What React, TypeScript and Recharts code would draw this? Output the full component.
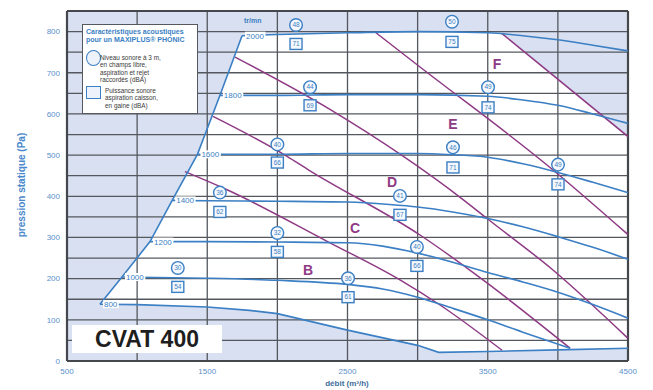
import React from 'react';
import {
  ComposedChart,
  Line,
  Area,
  XAxis,
  YAxis,
  CartesianGrid,
  ReferenceLine,
  Scatter,
  Label,
} from 'recharts';

const BLUE = '#3b7fc4';
const PURPLE = '#8e3a84';
const GRID = '#54585e';
const SHADE = '#d9e0f1';
const TICK = '#5a90cc';

// axes
const xTicks = [500, 1500, 2500, 3500, 4500];
const yTicks = [0, 100, 200, 300, 400, 500, 600, 700, 800];
const xGrid = [1000, 1500, 2000, 2500, 3000, 3500, 4000];
const yGrid = [50, 100, 150, 200, 250, 300, 350, 400, 450, 500, 550, 600, 650, 700, 750, 800];

// tr/mn curves (débit m3/h, pression Pa)
const rpm800 = [
  { x: 735, y: 138 }, { x: 1000, y: 137 }, { x: 1500, y: 131 }, { x: 1800, y: 123 },
  { x: 2000, y: 115 }, { x: 2500, y: 75 }, { x: 3000, y: 38 }, { x: 3150, y: 21 },
  { x: 3500, y: 23 }, { x: 4000, y: 27 }, { x: 4500, y: 31 },
];
const rpm1000 = [
  { x: 892, y: 204 }, { x: 1500, y: 201 }, { x: 2000, y: 196 }, { x: 2500, y: 186 },
  { x: 2750, y: 175 }, { x: 3000, y: 155 }, { x: 3250, y: 128 }, { x: 3500, y: 100 },
  { x: 3750, y: 70 }, { x: 4087, y: 31 },
];
const rpm1200 = [
  { x: 1092, y: 290 }, { x: 1500, y: 290 }, { x: 2000, y: 289 }, { x: 2500, y: 287 },
  { x: 2750, y: 279 }, { x: 3000, y: 262 }, { x: 3250, y: 240 }, { x: 3500, y: 215 },
  { x: 3750, y: 192 }, { x: 4000, y: 167 }, { x: 4250, y: 137 }, { x: 4500, y: 104 },
];
const rpm1400 = [
  { x: 1250, y: 390 }, { x: 1500, y: 389 }, { x: 2000, y: 388 }, { x: 2500, y: 386 },
  { x: 2800, y: 380 }, { x: 3000, y: 374 }, { x: 3250, y: 362 }, { x: 3500, y: 346 },
  { x: 3750, y: 326 }, { x: 4000, y: 302 }, { x: 4250, y: 276 }, { x: 4500, y: 247 },
];
const rpm1600 = [
  { x: 1430, y: 502 }, { x: 2000, y: 502 }, { x: 2500, y: 504 }, { x: 3000, y: 504 },
  { x: 3250, y: 501 }, { x: 3500, y: 495 }, { x: 3750, y: 479 }, { x: 4000, y: 458 },
  { x: 4250, y: 434 }, { x: 4500, y: 409 },
];
const rpm1800 = [
  { x: 1590, y: 645 }, { x: 2000, y: 645 }, { x: 2500, y: 647 }, { x: 3000, y: 647 },
  { x: 3500, y: 643 }, { x: 3750, y: 634 }, { x: 4000, y: 621 }, { x: 4250, y: 600 },
  { x: 4500, y: 577 },
];
const rpm2000 = [
  { x: 1748, y: 790 }, { x: 2000, y: 793 }, { x: 2500, y: 797 }, { x: 3000, y: 800 },
  { x: 3500, y: 797 }, { x: 3750, y: 790 }, { x: 4000, y: 780 }, { x: 4250, y: 767 },
  { x: 4500, y: 753 },
];
const rpmCurves = [rpm800, rpm1000, rpm1200, rpm1400, rpm1600, rpm1800, rpm2000];
const rpmNames = ['800', '1000', '1200', '1400', '1600', '1800', '2000'];

// tags at curve starts, also the left limit line
const rpmTags = rpmCurves.map((c, i) => ({ x: c[0].x, y: c[0].y, v: rpmNames[i] }));
const limitCurve = rpmCurves.map((c) => ({ x: c[0].x, y: c[0].y }));

// zone lines B..F
const lineB = [
  { x: 1341, y: 460 }, { x: 1641, y: 416 }, { x: 2375, y: 287 }, { x: 2874, y: 197 },
  { x: 3160, y: 136 }, { x: 3602, y: 26 },
];
const lineC = [
  { x: 1541, y: 594 }, { x: 2069, y: 497 }, { x: 2218, y: 465 }, { x: 3017, y: 306 },
  { x: 3466, y: 197 }, { x: 4087, y: 31 },
];
const lineD = [
  { x: 1698, y: 738 }, { x: 2375, y: 611 }, { x: 3324, y: 392 }, { x: 3495, y: 346 },
  { x: 3965, y: 221 }, { x: 4500, y: 55 },
];
const lineE = [
  { x: 2696, y: 799 }, { x: 3017, y: 714 }, { x: 3944, y: 470 }, { x: 4500, y: 307 },
];
const lineF = [{ x: 3602, y: 795 }, { x: 4500, y: 545 }];
const zoneLines = [lineB, lineC, lineD, lineE, lineF];

// white operating zone: low / high edge
const zoneX = [735, 892, 1092, 1250, 1430, 1590, 1748, 2000, 2500, 3000, 3150, 3500, 3602, 4000, 4500];
const zoneLow = [138, 137, 136, 134, 132, 129, 125, 115, 75, 38, 21, 23, 24, 27, 31];
const zoneHigh = [138, 204, 290, 390, 502, 645, 790, 793, 797, 800, 799, 797, 795, 684, 545];
const zoneData = zoneX.map((x, i) => ({ x, range: [zoneLow[i], zoneHigh[i]] }));

// acoustic marks
const soundLevel = [
  { x: 1290, y: 226, v: '30' }, { x: 2000, y: 311, v: '32' }, { x: 1590, y: 409, v: '36' },
  { x: 2504, y: 201, v: '36' }, { x: 2000, y: 526, v: '40' }, { x: 2995, y: 277, v: '40' },
  { x: 2874, y: 401, v: '41' }, { x: 2233, y: 665, v: '44' }, { x: 3252, y: 519, v: '46' },
  { x: 2133, y: 816, v: '48' }, { x: 3502, y: 665, v: '49' }, { x: 4001, y: 477, v: '49' },
  { x: 3245, y: 824, v: '50' },
];
const soundPower = [
  { x: 1290, y: 180, v: '54' }, { x: 2000, y: 265, v: '58' }, { x: 1590, y: 362, v: '62' },
  { x: 2504, y: 155, v: '61' }, { x: 2000, y: 482, v: '66' }, { x: 2995, y: 231, v: '66' },
  { x: 2874, y: 355, v: '67' }, { x: 2233, y: 621, v: '69' }, { x: 3252, y: 470, v: '71' },
  { x: 2133, y: 770, v: '71' }, { x: 3502, y: 616, v: '74' }, { x: 4001, y: 429, v: '74' },
  { x: 3245, y: 775, v: '75' },
];
const zoneLetters = [
  { x: 2218, y: 221, v: 'B' }, { x: 2554, y: 324, v: 'C' }, { x: 2817, y: 434, v: 'D' },
  { x: 3252, y: 575, v: 'E' }, { x: 3566, y: 721, v: 'F' },
];

const CircleMark = (p: any) => {
  if (p.cx == null) return null;
  return (
    <g>
      <circle cx={p.cx} cy={p.cy} r={6.3} fill="#f5f8fd" stroke={BLUE} strokeWidth={1.4} />
      <text x={p.cx} y={p.cy + 2.3} textAnchor="middle" fontSize={6.5} fill={BLUE}>
        {p.payload.v}
      </text>
    </g>
  );
};

const SquareMark = (p: any) => {
  if (p.cx == null) return null;
  return (
    <g>
      <rect x={p.cx - 6} y={p.cy - 5.5} width={12} height={11} fill="#f5f8fd" stroke={BLUE} strokeWidth={1.4} />
      <text x={p.cx} y={p.cy + 2.3} textAnchor="middle" fontSize={6.5} fill={BLUE}>
        {p.payload.v}
      </text>
    </g>
  );
};

const LetterMark = (p: any) => {
  if (p.cx == null) return null;
  return (
    <text x={p.cx} y={p.cy + 5} textAnchor="middle" fontSize={14} fontWeight="bold" fill={PURPLE}>
      {p.payload.v}
    </text>
  );
};

const RpmTag = (p: any) => {
  if (p.cx == null) return null;
  const w = p.payload.v.length * 4.6 + 2;
  return (
    <g>
      <rect x={p.cx + 3} y={p.cy - 4} width={w} height={8} fill="#ffffff" />
      <text x={p.cx + 4} y={p.cy + 3} fontSize={8} fill={BLUE}>
        {p.payload.v}
      </text>
    </g>
  );
};

const YTitle = (props: any) => {
  const vb = props.viewBox || { x: 0, y: 11, width: 67, height: 350 };
  const cx = vb.x + 21;
  const cy = vb.y + vb.height / 2 - 1;
  return (
    <text
      x={cx}
      y={cy}
      transform={`rotate(-90 ${cx} ${cy})`}
      textAnchor="middle"
      dominantBaseline="central"
      fontSize={10}
      fontWeight="bold"
      fill="#4a88cc"
    >
      pression statique (Pa)
    </text>
  );
};

const XTitle = (props: any) => {
  const vb = props.viewBox || { x: 67, y: 361, width: 561, height: 29 };
  return (
    <text
      x={vb.x + vb.width / 2 - 0.5}
      y={vb.y + 25}
      textAnchor="middle"
      fontSize={8}
      fontWeight="bold"
      fill="#3e6c9c"
    >
      débit (m³/h)
    </text>
  );
};

const legendLine: React.CSSProperties = { whiteSpace: 'nowrap', height: 7.4 };

export default function App() {
  return (
    <div
      style={{
        position: 'absolute',
        left: 0,
        top: 0,
        width: 653,
        height: 390,
        background: '#ffffff',
        fontFamily: '"Liberation Sans", Arial, sans-serif',
      }}
    >
      <ComposedChart width={653} height={390} margin={{ top: 11, right: 25, left: 0, bottom: 0 }}>
        <CartesianGrid fill={SHADE} fillOpacity={1} horizontal={false} vertical={false} />
        <XAxis
          dataKey="x"
          type="number"
          domain={[500, 4500]}
          ticks={xTicks}
          allowDataOverflow
          axisLine={false}
          tickLine={false}
          tickSize={0}
          tickMargin={7}
          height={29}
          tick={{ fontSize: 8, fill: TICK }}
        >
          <Label content={XTitle} />
        </XAxis>
        <YAxis
          type="number"
          domain={[0, 850]}
          ticks={yTicks}
          allowDataOverflow
          axisLine={false}
          tickLine={false}
          tickSize={0}
          tickMargin={7}
          width={67}
          tick={{ fontSize: 8, fill: TICK }}
        >
          <Label content={YTitle} />
        </YAxis>

        <Area
          data={zoneData}
          dataKey="range"
          type="linear"
          fill="#ffffff"
          fillOpacity={1}
          stroke="none"
          isAnimationActive={false}
          zIndex={100}
        />

        {xGrid.map((v) => (
          <ReferenceLine key={'gx' + v} x={v} stroke={GRID} strokeWidth={1.3} zIndex={300} />
        ))}
        {yGrid.map((v) => (
          <ReferenceLine key={'gy' + v} y={v} stroke={GRID} strokeWidth={1.3} zIndex={300} />
        ))}
        <ReferenceLine x={500} stroke="#44474c" strokeWidth={2.2} zIndex={300} />
        <ReferenceLine x={4500} stroke="#44474c" strokeWidth={2.2} zIndex={300} />
        <ReferenceLine y={0} stroke="#44474c" strokeWidth={2.2} zIndex={300} />
        <ReferenceLine y={850} stroke="#44474c" strokeWidth={2.2} zIndex={300} />

        {zoneLines.map((d, i) => (
          <Line
            key={'z' + i}
            data={d}
            dataKey="y"
            type="monotone"
            stroke={PURPLE}
            strokeWidth={1.5}
            dot={false}
            isAnimationActive={false}
          />
        ))}
        <Line
          data={limitCurve}
          dataKey="y"
          type="linear"
          stroke={BLUE}
          strokeWidth={1.6}
          dot={false}
          isAnimationActive={false}
        />
        {rpmCurves.map((d, i) => (
          <Line
            key={'r' + i}
            data={d}
            dataKey="y"
            type={i === 0 ? 'linear' : 'monotone'}
            stroke={BLUE}
            strokeWidth={1.6}
            dot={false}
            isAnimationActive={false}
          />
        ))}

        <Scatter data={rpmTags} dataKey="y" shape={RpmTag} isAnimationActive={false} />
        <Scatter data={soundLevel} dataKey="y" shape={CircleMark} isAnimationActive={false} />
        <Scatter data={soundPower} dataKey="y" shape={SquareMark} isAnimationActive={false} />
        <Scatter data={zoneLetters} dataKey="y" shape={LetterMark} isAnimationActive={false} />
      </ComposedChart>

      <div
        style={{
          position: 'absolute',
          left: 244,
          top: 17,
          fontSize: 7,
          fontWeight: 'bold',
          color: BLUE,
          lineHeight: '8px',
        }}
      >
        tr/mn
      </div>

      <div
        style={{
          position: 'absolute',
          left: 82,
          top: 24,
          width: 114,
          height: 88,
          background: '#ffffff',
          border: '1px solid #55585d',
          fontSize: 6.4,
          lineHeight: '7.4px',
          color: '#3a3a3a',
        }}
      >
        <div style={{ position: 'absolute', left: 3, top: 3, color: BLUE, fontWeight: 'bold', fontSize: 7 }}>
          <div style={{ ...legendLine, height: 8 }}>Caractéristiques acoustiques</div>
          <div style={{ ...legendLine, height: 8 }}>pour un MAXIPLUS® PHONIC</div>
        </div>
        <div
          style={{
            position: 'absolute',
            left: 3,
            top: 25,
            width: 13,
            height: 14,
            borderRadius: '50%',
            border: `1.5px solid ${BLUE}`,
            background: '#eef3fb',
          }}
        />
        <div style={{ position: 'absolute', left: 17, top: 29 }}>
          <div style={legendLine}>Niveau sonore à 3 m,</div>
          <div style={legendLine}>en champs libre,</div>
          <div style={legendLine}>aspiration et rejet</div>
          <div style={legendLine}>raccordés (dBA)</div>
        </div>
        <div
          style={{
            position: 'absolute',
            left: 3,
            top: 61,
            width: 13,
            height: 11,
            border: `1.5px solid ${BLUE}`,
            background: '#eef3fb',
          }}
        />
        <div style={{ position: 'absolute', left: 22, top: 62 }}>
          <div style={legendLine}>Puissance sonore</div>
          <div style={legendLine}>aspiration caisson,</div>
          <div style={legendLine}>en gaine (dBA)</div>
        </div>
      </div>

      <div
        style={{
          position: 'absolute',
          left: 72,
          top: 325,
          width: 150,
          height: 28,
          background: '#ffffff',
          fontSize: 23,
          fontWeight: 'bold',
          color: '#1e1e1e',
          lineHeight: '28px',
          textAlign: 'center',
        }}
      >
        CVAT 400
      </div>
    </div>
  );
}
